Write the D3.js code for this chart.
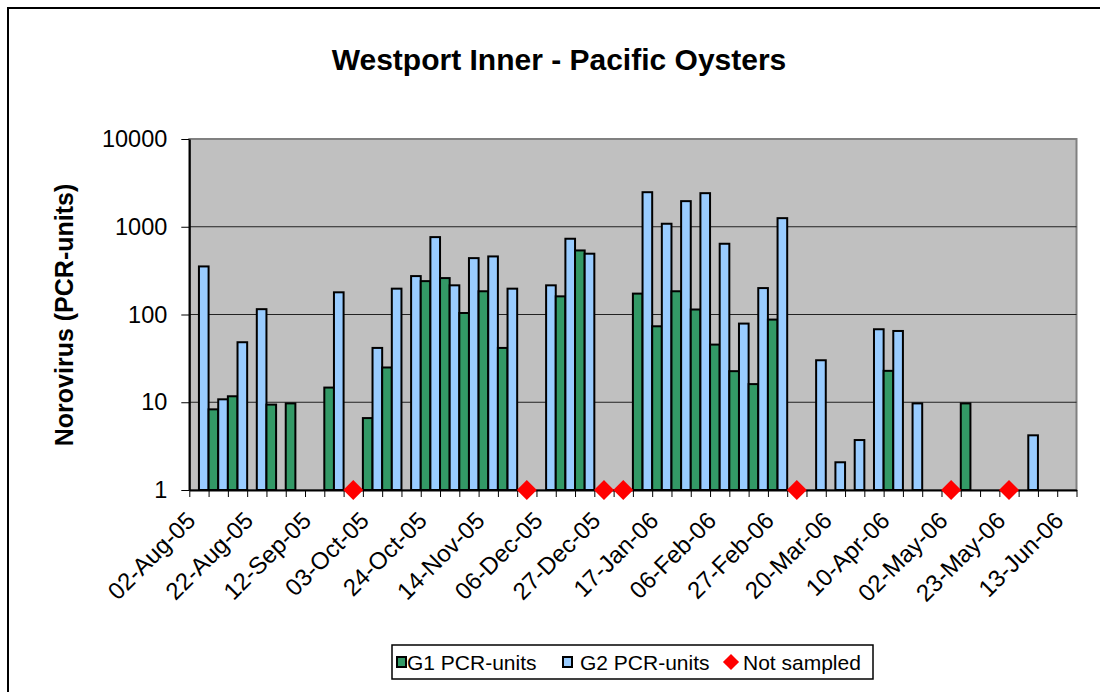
<!DOCTYPE html>
<html>
<head>
<meta charset="utf-8">
<script src="https://cdn.jsdelivr.net/npm/d3@7"></script>
<style>
  body { margin: 0; background: #fff; }
  svg text { font-family: "Liberation Sans", Arial, sans-serif; fill: #000; }
</style>
</head>
<body>
<div id="chart"></div>
<script>
// sampling weeks (category index), only every third one is labelled
const samples = d3.range(46);
const tickLabels = ["02-Aug-05", "22-Aug-05", "12-Sep-05", "03-Oct-05", "24-Oct-05", "14-Nov-05",
  "06-Dec-05", "27-Dec-05", "17-Jan-06", "06-Feb-06", "27-Feb-06", "20-Mar-06",
  "10-Apr-06", "02-May-06", "23-May-06", "13-Jun-06"];

// G1 / G2 norovirus PCR-units per sample (null = not detected)
const g1 = [null, 8.3, 11.7, null, 9.4, 9.7, null, 14.7, null, 6.6,
  24.9, null, 240, 260, 104, 184, 41.6, null, null, 161,
  537, null, null, 173, 73.4, 184, 114, 45.4, 22.6, 16.1,
  87.5, null, null, null, null, null, 22.8, null, null, null,
  9.7, null, null, null, null, null];
const g2 = [353, 10.8, 48.3, 115, null, null, null, 179, null, 41.6,
  197, 274, 762, 215, 439, 459, 197, null, 215, 730,
  493, null, null, 2476, 1082, 1958, 2414, 640, 78.8, 200,
  1253, null, 30.1, 2.07, 3.71, 67.9, 64.9, 9.7, null, null,
  null, null, null, 4.2, null, null];
// weeks with no sample taken
const notSampled = [8, 17, 21, 22, 31, 39, 42];

const yTicks = [1, 10, 100, 1000, 10000];

const width = 1100, height = 692;
const plot = { left: 189.3, right: 1076.5, top: 139, bottom: 490 };

const svg = d3.select("#chart").append("svg")
  .attr("width", width)
  .attr("height", height);

// outer chart frame
svg.append("rect")
  .attr("x", 8).attr("y", 8)
  .attr("width", 1100).attr("height", 700)
  .attr("fill", "#fff")
  .attr("stroke", "#000")
  .attr("stroke-width", 2);

/* SCALES */
const x = d3.scaleBand()
  .domain(samples)
  .range([plot.left, plot.right])
  .padding(0);

const xSub = d3.scaleBand()
  .domain(["G1", "G2"])
  .range([0, x.bandwidth()])
  .padding(0);

const xEdge = d3.scaleLinear()
  .domain([0, samples.length])
  .range([plot.left, plot.right]);

const y = d3.scaleLog()
  .domain([1, 10000])
  .range([plot.bottom, plot.top]);

// plot area
svg.append("rect")
  .attr("x", plot.left).attr("y", plot.top)
  .attr("width", plot.right - plot.left)
  .attr("height", plot.bottom - plot.top)
  .attr("fill", "#c0c0c0")
  .attr("stroke", "#808080")
  .attr("stroke-width", 2);

// gridlines
svg.append("g")
  .selectAll("line")
  .data(yTicks.slice(1, -1))
  .join("line")
  .attr("x1", plot.left).attr("x2", plot.right)
  .attr("y1", d => y(d)).attr("y2", d => y(d))
  .attr("stroke", "#222")
  .attr("stroke-width", 1);

/* BARS */
const bars = [];
samples.forEach(i => {
  if (g1[i] != null) bars.push({ i, s: "G1", v: g1[i] });
  if (g2[i] != null) bars.push({ i, s: "G2", v: g2[i] });
});

svg.append("g")
  .selectAll("rect")
  .data(bars)
  .join("rect")
  .attr("x", d => x(d.i) + xSub(d.s))
  .attr("y", d => y(d.v))
  .attr("width", xSub.bandwidth())
  .attr("height", d => y(1) - y(d.v))
  .attr("fill", d => d.s === "G1" ? "#339966" : "#99ccff")
  .attr("stroke", "#000")
  .attr("stroke-width", 2);

/* AXES */
const yAxis = svg.append("g")
  .attr("transform", `translate(${plot.left},0)`)
  .call(d3.axisLeft(y).tickValues(yTicks).tickFormat(d3.format("d")).tickSize(8).tickSizeOuter(0).tickPadding(14));
yAxis.selectAll("text").attr("font-size", 23.5);
yAxis.select(".domain").attr("stroke", "#000").attr("stroke-width", 2);

const xAxis = svg.append("g")
  .attr("transform", `translate(0,${plot.bottom})`)
  .call(d3.axisBottom(xEdge).tickValues(d3.range(samples.length + 1)).tickFormat("").tickSize(7).tickSizeOuter(0));
xAxis.select(".domain").attr("stroke", "#000").attr("stroke-width", 2);

// rotated date labels, every third sample
svg.append("g")
  .selectAll("text")
  .data(tickLabels)
  .join("text")
  .attr("transform", (d, k) => `translate(${x(k * 3) + x.bandwidth() / 2 - 2},522) rotate(-45)`)
  .attr("text-anchor", "end")
  .attr("font-size", 24)
  .text(d => d);

// not sampled markers
svg.append("g")
  .selectAll("path")
  .data(notSampled)
  .join("path")
  .attr("transform", d => `translate(${x(d) + x.bandwidth() / 2},${y(1)}) rotate(45)`)
  .attr("d", d3.symbol(d3.symbolSquare, 200))
  .attr("fill", "#ff0000");

/* TITLES */
svg.append("text")
  .attr("x", 559).attr("y", 70)
  .attr("text-anchor", "middle")
  .attr("font-size", 30)
  .attr("font-weight", "bold")
  .text("Westport Inner - Pacific Oysters");

svg.append("text")
  .attr("transform", "translate(73,315) rotate(-90)")
  .attr("text-anchor", "middle")
  .attr("font-size", 25)
  .attr("font-weight", "bold")
  .text("Norovirus (PCR-units)");

/* LEGEND */
const legend = svg.append("g");
legend.append("rect")
  .attr("x", 392).attr("y", 645)
  .attr("width", 481).attr("height", 34)
  .attr("fill", "#fff")
  .attr("stroke", "#000")
  .attr("stroke-width", 1.5);

const legendItems = [
  { label: "G1 PCR-units", color: "#339966", kind: "bar", x: 397, tx: 407 },
  { label: "G2 PCR-units", color: "#99ccff", kind: "bar", x: 563, tx: 580 },
  { label: "Not sampled", color: "#ff0000", kind: "marker", x: 731, tx: 743 }
];

legendItems.forEach(d => {
  if (d.kind === "bar") {
    legend.append("rect")
      .attr("x", d.x).attr("y", 657)
      .attr("width", 9).attr("height", 10)
      .attr("fill", d.color)
      .attr("stroke", "#000")
      .attr("stroke-width", 2);
  } else {
    legend.append("path")
      .attr("transform", `translate(${d.x},662) rotate(45)`)
      .attr("d", d3.symbol(d3.symbolSquare, 130))
      .attr("fill", d.color);
  }
  legend.append("text")
    .attr("x", d.tx).attr("y", 670)
    .attr("font-size", 21)
    .text(d.label);
});
</script>
</body>
</html>
